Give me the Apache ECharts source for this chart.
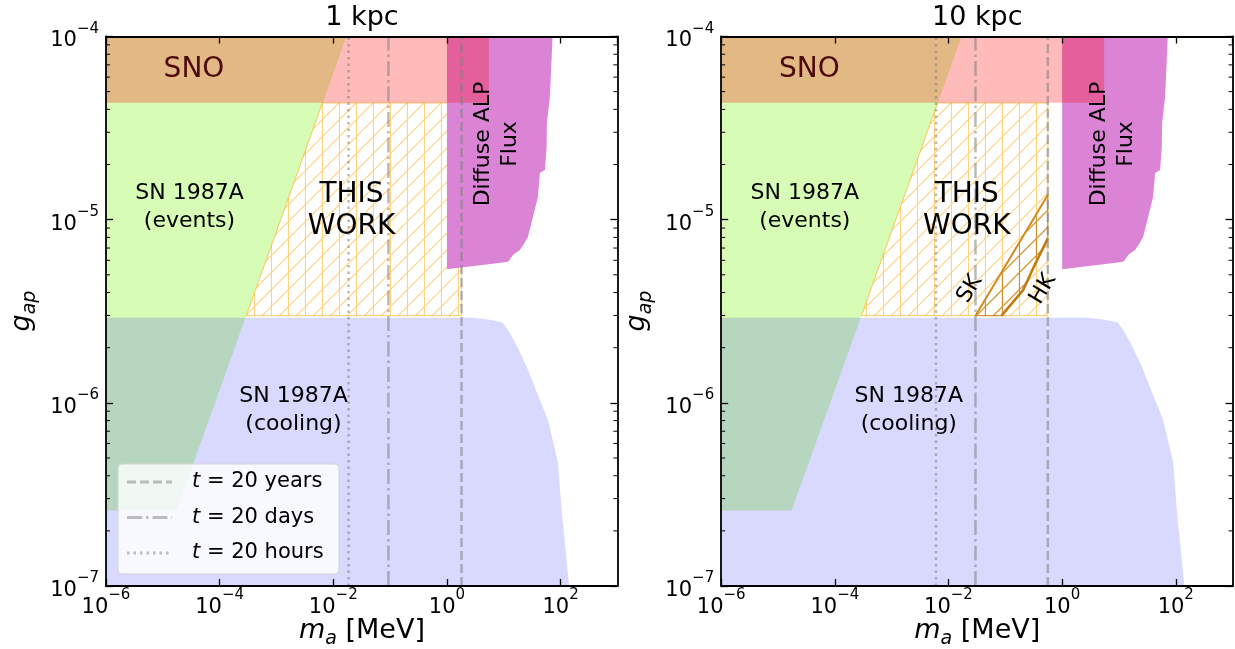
<!DOCTYPE html>
<html><head><meta charset="utf-8">
<script src="https://cdn.jsdelivr.net/npm/echarts@6/dist/echarts.min.js"></script>
<style>html,body{margin:0;padding:0;background:#fff}#c{width:1235px;height:649px}</style>
</head><body><div id="c"></div>
<script>
// ---------- DATA : points are [log10(m_a / MeV), log10(g_ap)] ----------
const xTickExponents = [-6, -4, -2, 0, 2];
const yTickExponents = [-7, -6, -5, -4];
const panelTitles = ['1 kpc', '10 kpc'];
const legendNames = ['20 years', '20 days', '20 hours'];

const snoRegion = [[-6, -4.362], [0.739, -4.362], [0.739, -4], [-6, -4]];
const sn87EventsRegion = [[-6, -6.588], [-4.76, -6.588], [-1.77, -4], [-6, -4]];
const sn87CoolingRegion = [[-6, -7], [-6, -5.535], [0.457, -5.535], [0.756, -5.547], [0.98, -5.562],
  [1.108, -5.618], [1.249, -5.70], [1.407, -5.804], [1.601, -5.957], [1.777, -6.093], [1.953, -6.323],
  [2.023, -6.601], [2.111, -6.874], [2.151, -7]];
const diffuseFluxRegion = [[0, -4], [1.859, -4], [1.812, -4.33], [1.759, -4.472], [1.754, -4.603],
  [1.724, -4.729], [1.636, -4.745], [1.601, -4.876], [1.513, -4.985], [1.425, -5.094], [1.36, -5.13],
  [1.284, -5.165], [1.17, -5.19], [1.09, -5.225], [1.055, -5.231], [0, -5.271]];
const thisWork1kpc = [[-3.53, -5.524], [-2.19, -4.362], [0.257, -4.362], [0.257, -5.524]];
const thisWork10kpc = [[-3.53, -5.524], [-2.19, -4.362], [-0.252, -4.362], [-0.252, -5.524]];
const skLine10kpc = [[-1.525, -5.524], [-0.252, -4.865]];
const hkLine10kpc = [[-1.066, -5.524], [-0.686, -5.384], [-0.51, -5.265], [-0.252, -5.102]];
// t = 20 years / days / hours lines (log10 m_a)
const tLines1kpc = [0.257, -1.03, -1.731];
const tLines10kpc = [-0.252, -1.525, -2.22];

// ---------- helpers ----------
const FONT = '"DejaVu Sans", sans-serif';
const xMin = -6, xMax = 3, yMin = -7, yMax = -4;
const yMinorTicks = [];
for (let n = yMin; n < yMax; n++) for (let k = 2; k <= 9; k++) yMinorTicks.push(n + Math.log10(k));

function hatchCanvas(color, lw) {
  const s = 17, c = document.createElement('canvas');
  c.width = s; c.height = s;
  const g = c.getContext('2d');
  g.strokeStyle = color; g.lineWidth = lw;
  g.beginPath();
  g.moveTo(16.5, 0); g.lineTo(16.5, s);
  for (let k = -1; k <= 1; k++) { g.moveTo(k * s, s); g.lineTo(k * s + s, 0); }
  g.stroke();
  return c;
}
const lightHatch = { image: hatchCanvas('rgba(255,165,0,0.5)', 1.2), repeat: 'repeat' };
const darkHatch = { image: hatchCanvas('rgba(190,120,15,0.75)', 1.2), repeat: 'repeat' };

function supLabel(v) { return '{b|10}{s|' + (v < 0 ? '\u2212' + (-v) : String(v)) + '}'; }
const tickRich = {
  b: { fontSize: 21, lineHeight: 30, verticalAlign: 'bottom', fontFamily: FONT, color: '#000' },
  s: { fontSize: 15, lineHeight: 15, verticalAlign: 'top', fontFamily: FONT, color: '#000' }
};

function xAx(grid, pos) {
  return {
    type: 'value', gridIndex: grid, position: pos, min: xMin, max: xMax, interval: 2, z: 10,
    axisLine: { show: true, onZero: false, lineStyle: { color: '#000', width: 1.8 } },
    axisTick: { show: true, inside: true, length: 7, lineStyle: { color: '#000', width: 1.3 } },
    axisLabel: { show: pos === 'bottom', showMaxLabel: false, margin: 2, formatter: supLabel, rich: tickRich },
    splitLine: { show: false }
  };
}
function yAx(grid, pos) {
  return {
    type: 'value', gridIndex: grid, position: pos, min: yMin, max: yMax, interval: 1, z: 10,
    axisLine: { show: true, onZero: false, lineStyle: { color: '#000', width: 1.8 } },
    axisTick: { show: true, inside: true, length: 7, lineStyle: { color: '#000', width: 1.3 } },
    axisLabel: { show: pos === 'left', margin: 7, formatter: supLabel, rich: tickRich },
    splitLine: { show: false }
  };
}

function region(points, panel, style, z) {
  return {
    type: 'custom', xAxisIndex: panel * 2, yAxisIndex: panel * 2, z, silent: true, animation: false,
    data: points,
    renderItem(params, api) {
      if (params.dataIndex !== 0) return null;
      return { type: 'polygon', shape: { points: points.map(p => api.coord(p)) }, style };
    }
  };
}
function polyline(points, panel, style, z) {
  return {
    type: 'custom', xAxisIndex: panel * 2, yAxisIndex: panel * 2, z, silent: true, animation: false,
    data: points,
    renderItem(params, api) {
      if (params.dataIndex !== 0) return null;
      return { type: 'polyline', shape: { points: points.map(p => api.coord(p)) }, style };
    }
  };
}
function minorTicks(panel) {
  return {
    type: 'custom', xAxisIndex: panel * 2, yAxisIndex: panel * 2, z: 9, silent: true, animation: false,
    data: yMinorTicks.map(v => [xMin, v]),
    renderItem(params, api) {
      const v = api.value(1);
      const l = api.coord([xMin, v]), r = api.coord([xMax, v]);
      return { type: 'group', children: [
        { type: 'line', shape: { x1: l[0], y1: l[1], x2: l[0] + 4, y2: l[1] }, style: { stroke: '#000', lineWidth: 1 } },
        { type: 'line', shape: { x1: r[0], y1: r[1], x2: r[0] - 4, y2: r[1] }, style: { stroke: '#000', lineWidth: 1 } }
      ] };
    }
  };
}
const dashTypes = [[9, 4], [15, 4, 2.5, 4], [2.5, 4]];
const lineColor = 'rgba(128,128,128,0.55)';
function tLines(xs, panel) {
  return xs.map((x, i) => ({
    type: 'line', name: legendNames[i] + panel, xAxisIndex: panel * 2, yAxisIndex: panel * 2, z: 8,
    symbol: 'none', silent: true, animation: false, data: [[x, yMin], [x, yMax]],
    lineStyle: { color: lineColor, width: 2.5, type: dashTypes[i] }
  }));
}

const series = [];
[0, 1].forEach(p => {
  series.push(region(sn87EventsRegion, p, { fill: 'rgba(124,245,10,0.3)' }, 1));
  series.push(region(sn87CoolingRegion, p, { fill: 'rgba(0,0,255,0.15)' }, 2));
  series.push(region(p === 0 ? thisWork1kpc : thisWork10kpc, p,
    { fill: lightHatch, stroke: 'rgba(255,165,0,0.5)', lineWidth: 1.2 }, 3));
  series.push(region(diffuseFluxRegion, p, { fill: '#db84d6' }, 5));
  series.push(region(snoRegion, p, { fill: 'rgba(255,0,0,0.27)' }, 6));
  series.push(...tLines(p === 0 ? tLines1kpc : tLines10kpc, p));
  series.push(minorTicks(p));
});
// SK / HK band (10 kpc)
series.push(region(skLine10kpc.concat(hkLine10kpc.slice().reverse()), 1,
  { fill: darkHatch, stroke: 'rgba(190,120,15,0.8)', lineWidth: 1 }, 4));
series.push(polyline(skLine10kpc, 1, { stroke: '#d08c1c', lineWidth: 2, fill: null }, 4));
series.push(polyline(hkLine10kpc, 1, { stroke: '#c07c10', lineWidth: 2.6, fill: null }, 4));

// ---------- text graphics ----------
function txt(x, y, text, size, extra) {
  return Object.assign({ type: 'text', x, y, z: 100, silent: true,
    style: Object.assign({ text, fontSize: size, fontFamily: FONT, fill: '#000', align: 'center', verticalAlign: 'middle' }, extra || {}) });
}
const graphics = [];
const panelOffsets = [0, 615.3];
panelOffsets.forEach((dx, p) => {
  graphics.push(txt(362 + dx, 18, panelTitles[p], 27));
  graphics.push(txt(194 + dx, 70, 'SNO', 28, { fill: '#4d0a0a' }));
  graphics.push(txt(189.5 + dx, 207, 'SN 1987A\n(events)', 22, { lineHeight: 28 }));
  graphics.push(txt(351.5 + dx, 211, 'THIS\nWORK', 28, { lineHeight: 32 }));
  graphics.push(txt(293.5 + dx, 410, 'SN 1987A\n(cooling)', 22, { lineHeight: 28 }));
  graphics.push(Object.assign(txt(497 + dx, 144, 'Diffuse ALP\nFlux', 22, { lineHeight: 27 }), { rotation: Math.PI / 2 }));
  graphics.push(txt(362 + dx, 633, '{i|m}{sub|a}{n| [MeV]}', 27, {
    rich: {
      i: { fontSize: 27, fontStyle: 'italic', fontFamily: FONT, lineHeight: 32, verticalAlign: 'top' },
      sub: { fontSize: 19, fontStyle: 'italic', fontFamily: FONT, lineHeight: 19, verticalAlign: 'bottom' },
      n: { fontSize: 27, fontFamily: FONT, lineHeight: 32, verticalAlign: 'top' }
    } }));
  graphics.push(Object.assign(txt(24 + dx, 311, '{i|g}{sub|ap}', 27, {
    rich: {
      i: { fontSize: 27, fontStyle: 'italic', fontFamily: FONT, lineHeight: 32, verticalAlign: 'top' },
      sub: { fontSize: 19, fontStyle: 'italic', fontFamily: FONT, lineHeight: 19, verticalAlign: 'bottom' }
    } }), { rotation: Math.PI / 2 }));
});
graphics.push(Object.assign(txt(970, 289, 'SK', 22), { rotation: 59 * Math.PI / 180 }));
graphics.push(Object.assign(txt(1043, 289, 'HK', 22), { rotation: 59 * Math.PI / 180 }));
// legend
graphics.push({ type: 'rect', z: 90, silent: true, shape: { x: 118, y: 464, width: 221, height: 110, r: 4 },
  style: { fill: 'rgba(255,255,255,0.8)', stroke: '#d4d4d4', lineWidth: 1 } });
legendNames.forEach((nm, i) => {
  const y = 482 + i * 35.5;
  graphics.push({ type: 'line', z: 91, silent: true, shape: { x1: 127, y1: y, x2: 172, y2: y },
    style: { stroke: 'rgba(128,128,128,0.5)', lineWidth: 2.8, lineDash: dashTypes[i] } });
  graphics.push(txt(192, y, '{i|t}{n| = ' + nm + '}', 21, { align: 'left',
    rich: { i: { fontSize: 21, fontStyle: 'italic', fontFamily: FONT }, n: { fontSize: 21, fontFamily: FONT } } }));
});

const chart = echarts.init(document.getElementById('c'), null, { renderer: 'canvas' });
chart.setOption({
  animation: false,
  backgroundColor: '#fff',
  grid: [
    { left: 106, top: 36.5, width: 511.4, height: 549.5 },
    { left: 721.2, top: 36.5, width: 511.4, height: 549.5 }
  ],
  xAxis: [xAx(0, 'bottom'), xAx(0, 'top'), xAx(1, 'bottom'), xAx(1, 'top')],
  yAxis: [yAx(0, 'left'), yAx(0, 'right'), yAx(1, 'left'), yAx(1, 'right')],
  series,
  graphic: graphics
});
</script></body></html>
